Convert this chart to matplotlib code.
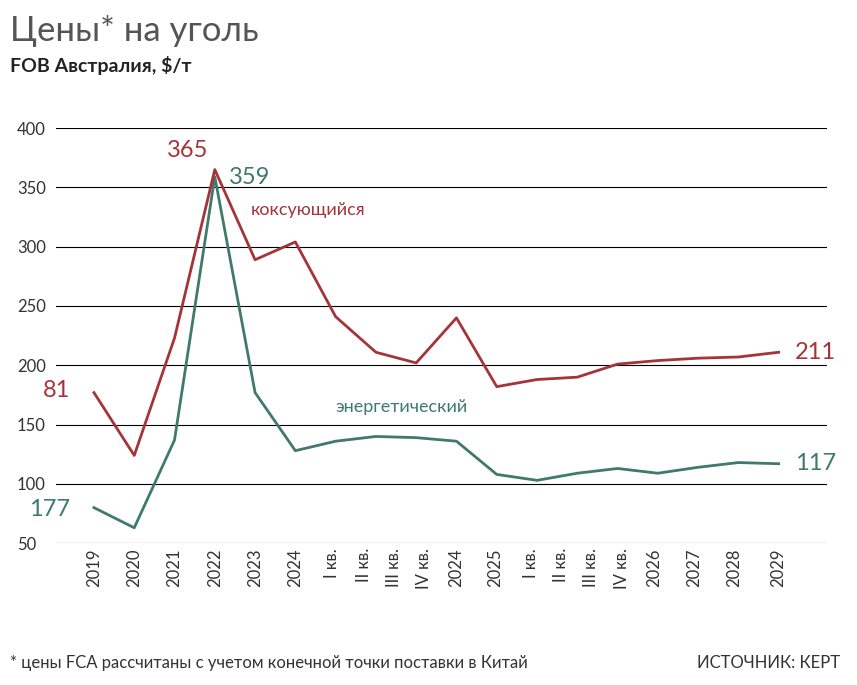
import matplotlib.pyplot as plt
import numpy as np

plt.rcParams["font.family"] = "Lato"

# data points (18 per series)
coking = [177, 124, 223, 365, 289, 304, 241, 211, 202, 240, 182, 188, 190, 201, 204, 206, 207, 211]
thermal = [80, 63, 137, 359, 177, 128, 136, 140, 139, 136, 108, 103, 109, 113, 109, 114, 118, 117]

tick_labels = ["2019", "2020", "2021", "2022", "2023", "2024", "I кв.", "II кв.", "III кв.", "IV кв.",
               "2024", "2025", "I кв.", "II кв.", "III кв.", "IV кв.", "2026", "2027", "2028", "2029"]
tick_pos = [0, 1, 2, 3, 4, 5, 5.9, 6.7, 7.45, 8.2, 9.0, 9.95, 10.85, 11.6, 12.35, 13.1, 13.9, 14.9, 15.9, 17]

RED = "#a5343a"
GREEN = "#3f7a6b"

fig = plt.figure(figsize=(8.57, 6.85), dpi=100)
ax = fig.add_axes([0.065, 0.207, 0.9, 0.606])

x = np.arange(len(coking))
ax.plot(x, thermal, color=GREEN, lw=2)
ax.plot(x, coking, color=RED, lw=2)

ax.set_ylim(50, 400)
ax.set_yticks(range(50, 401, 50))
ax.set_xlim(-0.95, 18.2)
ax.grid(axis="y", color="black", lw=0.8)
ax.set_axisbelow(True)
ax.set_xticks(tick_pos)
ax.set_xticklabels(tick_labels, rotation=90, fontsize=12, color="#333333")
ax.tick_params(length=0, labelsize=12, colors="#333333")
ax.tick_params(axis="y", pad=28)
for s in ax.spines.values():
    s.set_visible(False)
for lab in ax.get_yticklabels():
    lab.set_horizontalalignment("left")

# value labels (as printed in the original)
ax.text(-0.6, coking[0] + 2, "81", color=RED, fontsize=17, ha="right", va="center")
ax.text(-0.6, thermal[0] - 2, "177", color=GREEN, fontsize=17, ha="right", va="center")
ax.text(2.85, 372, "365", color=RED, fontsize=17, ha="right", va="bottom")
ax.text(3.35, 358, "359", color=GREEN, fontsize=17, ha="left", va="center")
ax.text(17.4, coking[-1], "211", color=RED, fontsize=17, ha="left", va="center")
ax.text(17.4, thermal[-1], "117", color=GREEN, fontsize=17, ha="left", va="center")
ax.text(3.9, 331, "коксующийся", color=RED, fontsize=13, ha="left", va="center")
ax.text(6.0, 165, "энергетический", color=GREEN, fontsize=13, ha="left", va="center")

fig.text(0.012, 0.955, "Цены* на уголь", fontsize=25, color="#555555", va="center")
fig.text(0.012, 0.905, "FOB Австралия, $/т", fontsize=14, fontweight="bold", color="#222222", va="center")
fig.text(0.012, 0.032, "* цены FCA рассчитаны с учетом конечной точки поставки в Китай",
         fontsize=12, color="#333333", va="center")
fig.text(0.98, 0.032, "ИСТОЧНИК: КЕРТ", fontsize=12, color="#333333", va="center", ha="right")

fig.savefig("out.png", dpi=100)
